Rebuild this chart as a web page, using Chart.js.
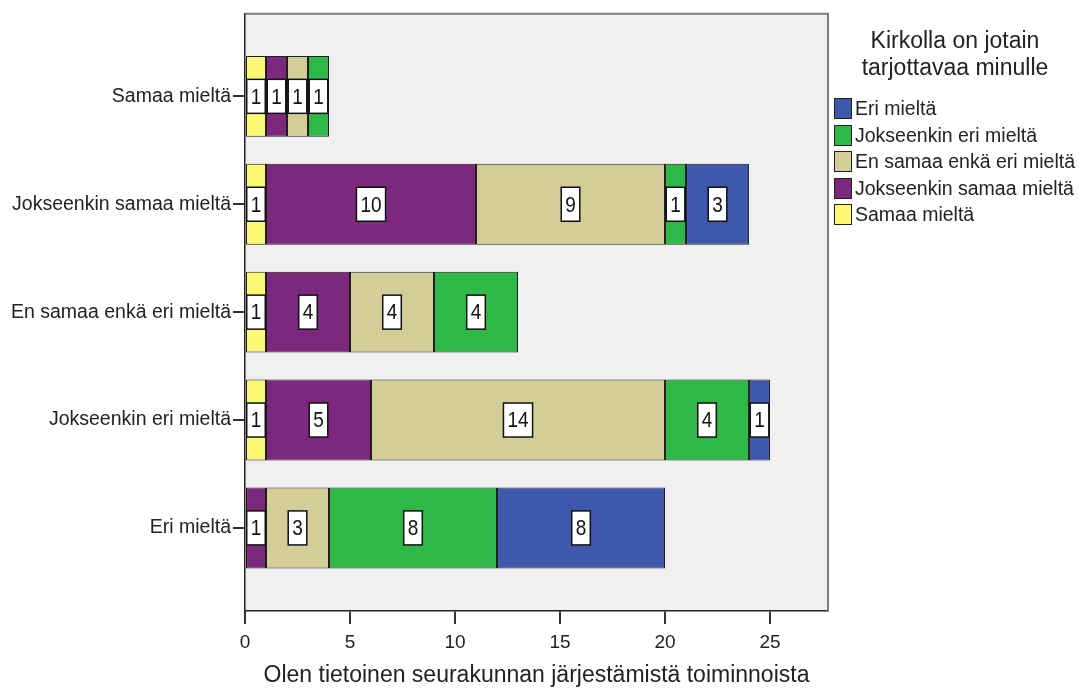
<!DOCTYPE html>
<html>
<head>
<meta charset="utf-8">
<script src="https://cdn.jsdelivr.net/npm/chart.js@4.4.0/dist/chart.umd.min.js"></script>
<style>
  body { margin: 0; background: #fff; }
  #wrap { position: relative; width: 1079px; height: 700px; }
  #legend { position: absolute; left: 829px; top: 0; width: 250px; font-family: "Liberation Sans", Arial, sans-serif; color: #222; }
  #legTitle { position: absolute; top: 27px; left: 0; width: 252px; text-align: center; font-size: 23px; line-height: 27px; }
  #legItems { position: absolute; top: 95px; left: 5px; }
  .item { height: 26.5px; line-height: 26.5px; font-size: 19.5px; white-space: nowrap; }
  .sw { display: inline-block; width: 16px; height: 19px; border: 1.5px solid #222; vertical-align: middle; margin-right: 3px; position: relative; top: -1px; }
</style>
</head>
<body>
<div id="wrap">
  <canvas id="myChart" width="1079" height="700"></canvas>
  <div id="legend">
    <div id="legTitle">Kirkolla on jotain<br>tarjottavaa minulle</div>
    <div id="legItems"></div>
  </div>
</div>
<script>
'use strict'
// categories top to bottom
var categories = ['Samaa mieltä', 'Jokseenkin samaa mieltä', 'En samaa enkä eri mieltä', 'Jokseenkin eri mieltä', 'Eri mieltä'];
// series in stacking order (left to right)
var seriesNames = ['Samaa mieltä', 'Jokseenkin samaa mieltä', 'En samaa enkä eri mieltä', 'Jokseenkin eri mieltä', 'Eri mieltä'];
var seriesColors = ['#fbf873', '#7c287d', '#d3ce97', '#2eb848', '#3e58ac'];
var samaa = [1, 1, 1, 1, 0];
var jokseenkinSamaa = [1, 10, 4, 5, 1];
var enSamaa = [1, 9, 4, 14, 3];
var jokseenkinEri = [1, 1, 4, 4, 8];
var eri = [0, 3, 0, 1, 8];
var xTicks = [0, 5, 10, 15, 20, 25];

var fontName = '"Liberation Sans", Arial, sans-serif';

// legend (reverse order, like the original)
var legItems = document.getElementById('legItems');
for (let s = seriesNames.length - 1; s >= 0; s--) {
    var row = document.createElement('div');
    row.className = 'item';
    var sw = document.createElement('span');
    sw.className = 'sw';
    sw.style.background = seriesColors[s];
    row.appendChild(sw);
    row.appendChild(document.createTextNode(seriesNames[s]));
    legItems.appendChild(row);
}

var datasets = [samaa, jokseenkinSamaa, enSamaa, jokseenkinEri, eri].map(function (vals, s) {
    return {
        label: seriesNames[s],
        data: vals.map(function (v, i) { return { x: v === 0 ? null : v, y: i }; }),
        backgroundColor: seriesColors[s],
        borderColor: '#1e1e1e',
        borderWidth: 1,
        borderSkipped: false,
        barPercentage: 0.75,
        categoryPercentage: 1
    };
});

// grey plot background + grey top/right frame
var plotFrame = {
    id: 'plotFrame',
    beforeDraw: function (chart) {
        var a = chart.chartArea;
        var ctx = chart.ctx;
        ctx.save();
        ctx.fillStyle = '#f0f0f0';
        ctx.fillRect(a.left, a.top, a.right - a.left, a.bottom - a.top);
        ctx.restore();
    },
    afterDraw: function (chart) {
        var a = chart.chartArea;
        var ctx = chart.ctx;
        ctx.save();
        ctx.strokeStyle = '#7a7a7a';
        ctx.lineWidth = 2;
        ctx.beginPath();
        ctx.moveTo(a.left, a.top);
        ctx.lineTo(a.right, a.top);
        ctx.lineTo(a.right, a.bottom);
        ctx.stroke();
        ctx.restore();
    }
};

// white boxed count labels in the middle of each segment
var valueLabels = {
    id: 'valueLabels',
    afterDatasetsDraw: function (chart) {
        var ctx = chart.ctx;
        ctx.save();
        ctx.font = '19px ' + fontName;
        ctx.textAlign = 'center';
        ctx.textBaseline = 'middle';
        chart.data.datasets.forEach(function (ds, s) {
            var meta = chart.getDatasetMeta(s);
            meta.data.forEach(function (bar, i) {
                var v = ds.data[i].x;
                if (v === null) return;
                var txt = String(v);
                var cx = (bar.x + bar.base) / 2;
                var w = ctx.measureText(txt).width + 8;
                var h = 34;
                ctx.fillStyle = '#fff';
                ctx.fillRect(cx - w / 2, bar.y - h / 2, w, h);
                ctx.strokeStyle = '#111';
                ctx.lineWidth = 1.5;
                ctx.strokeRect(cx - w / 2, bar.y - h / 2, w, h);
                ctx.fillStyle = '#111';
                ctx.save();
                ctx.translate(cx, bar.y + 1);
                ctx.scale(1, 1.2);
                ctx.fillText(txt, 0, 0);
                ctx.restore();
            });
        });
        ctx.restore();
    }
};

var ctx = document.getElementById('myChart').getContext('2d');

var chart = new Chart(ctx, {
    type: 'bar',
    data: { datasets: datasets },
    plugins: [plotFrame, valueLabels],
    options: {
        indexAxis: 'y',
        responsive: false,
        animation: false,
        devicePixelRatio: 1,
        layout: { padding: { top: 11, right: 251, left: 0, bottom: 0 } },
        plugins: {
            legend: { display: false },
            tooltip: { enabled: false }
        },
        scales: {
            x: {
                type: 'linear',
                min: 0,
                max: 27.76,
                stacked: true,
                afterBuildTicks: function (scale) {
                    scale.ticks = xTicks.map(function (v) { return { value: v }; });
                },
                afterFit: function (scale) { scale.height = 89; },
                ticks: { padding: 7, color: '#222', font: { family: fontName, size: 19 } },
                grid: { drawOnChartArea: false, tickLength: 13, color: '#333', lineWidth: 2 },
                border: { color: '#222', width: 1.5 },
                title: {
                    display: true,
                    text: 'Olen tietoinen seurakunnan järjestämistä toiminnoista',
                    color: '#222',
                    font: { family: fontName, size: 23 },
                    padding: { top: 0, bottom: 11 }
                }
            },
            y: {
                type: 'linear',
                reverse: true,
                offset: false,
                min: -0.766,
                max: 4.77,
                stacked: true,
                afterBuildTicks: function (scale) {
                    scale.ticks = categories.map(function (c, i) { return { value: i }; });
                },
                afterFit: function (scale) { scale.width = 245; },
                ticks: {
                    autoSkip: false,
                    padding: 2,
                    color: '#222',
                    font: { family: fontName, size: 19.5 },
                    callback: function (v) { return categories[v]; }
                },
                grid: { offset: false, drawOnChartArea: false, tickLength: 12, color: '#333', lineWidth: 2 },
                border: { color: '#222', width: 1.5 }
            }
        }
    }
});
</script>
</body>
</html>
